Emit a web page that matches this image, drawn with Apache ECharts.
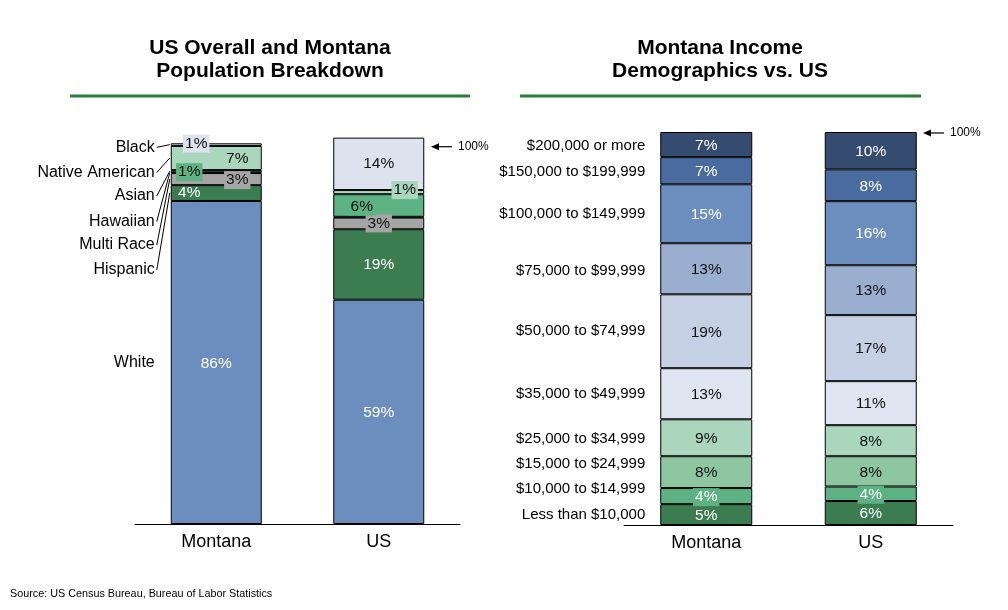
<!DOCTYPE html>
<html>
<head>
<meta charset="utf-8">
<script src="https://cdn.jsdelivr.net/npm/echarts@6/dist/echarts.min.js"></script>
<style>
  html, body { margin: 0; padding: 0; background: #fff; }
  #main { width: 1008px; height: 610px; }
</style>
</head>
<body>
<div id="main"></div>
<script>
const places = ['Montana', 'US']

// population breakdown, bottom segment first
const raceNames = ['White', 'Hispanic', 'Multi Race', 'Hawaiian', 'Asian', 'Native American', 'Black']
const raceMontana = [85.7, 4.2, 3.2, 0.2, 0.6, 6.4, 0.7]
const raceUS = [59.5, 18.7, 3.1, 0.2, 6.0, 1.1, 13.9]
const raceLabelsMontana = ['86%', '4%', '3%', '', '1%', '7%', '1%']
const raceLabelsUS = ['59%', '19%', '3%', '', '6%', '1%', '14%']

// household income brackets, bottom segment first
const incomeNames = [
    'Less than $10,000',
    '$10,000 to $14,999',
    '$15,000 to $24,999',
    '$25,000 to $34,999',
    '$35,000 to $49,999',
    '$50,000 to $74,999',
    '$75,000 to $99,999',
    '$100,000 to $149,999',
    '$150,000 to $199,999',
    '$200,000 or more',
]
const incomeMontana = [5.3, 4.1, 8.1, 9.4, 13.0, 18.8, 13.0, 15.0, 6.9, 6.4]
const incomeUS = [6.1, 3.7, 7.7, 7.9, 11.2, 16.8, 12.7, 16.3, 8.1, 9.5]
const incomeLabelsMontana = ['5%', '4%', '8%', '9%', '13%', '19%', '13%', '15%', '7%', '7%']
const incomeLabelsUS = ['6%', '4%', '8%', '8%', '11%', '17%', '13%', '16%', '8%', '10%']

// ---- styling ----
const FONT = '"Liberation Sans", Arial, sans-serif'
const raceColors = ['#6c8ebf', '#3b7d50', '#a5a5a5', '#000000', '#5cb283', '#a9d6bd', '#dde3ee']
const raceText = ['#fff', '#fff', '#111', '#111', '#111', '#111', '#111']
const raceLabelBg = [null, null, '#a5a5a5', null, '#5cb283', '#a9d6bd', '#dde3ee']
// label nudges in px: [montana, us]
const raceLabelShift = [
    [[0, 1], [0, 1]],
    [[-27, 0], [0, 0]],
    [[21, 1], [0, 0]],
    [[0, 0], [0, 0]],
    [[-27, 1], [-17, 1]],
    [[21, 1], [26, -2]],
    [[-20, -1], [0, 0]],
]
// where the race names sit on the left (px, y centre)
const raceNameY = [363, 270, 245, 221.5, 196, 172.5, 147.3]

const incomeColors = ['#3b7d50', '#5cb283', '#8ec6a1', '#a9d6bd', '#dfe5f0',
    '#c5d0e4', '#9aaed0', '#6c8ebf', '#4a6b9f', '#354b70']
const incomeText = ['#fff', '#fff', '#111', '#111', '#111', '#111', '#111', '#fff', '#fff', '#fff']
const incomeLabelBg = [null, '#5cb283', null, null, null, null, null, null, null, null]
// nudge for income names (px) so the small brackets don't crowd
const incomeNameShift = [0, -7, -8, 1, 0, 0, 2, 0, 1, 1]

const RACE_BAR = 91
const INCOME_BAR = 92

const chart = echarts.init(document.getElementById('main'))

const buildRace = () =>
    raceNames.map((name, i) => ({
        name,
        type: 'bar',
        stack: 'race',
        xAxisIndex: 0,
        yAxisIndex: 0,
        barWidth: RACE_BAR,
        itemStyle: { color: raceColors[i], borderColor: '#000', borderWidth: 1 },
        label: {
            show: true,
            position: 'inside',
            color: raceText[i],
            fontSize: 15.5,
            fontFamily: FONT,
            backgroundColor: raceLabelBg[i] || 'transparent',
            padding: [1, 2],
        },
        data: [
            {
                value: raceMontana[i],
                label: { show: !!raceLabelsMontana[i], formatter: raceLabelsMontana[i], offset: raceLabelShift[i][0] },
            },
            {
                value: raceUS[i],
                label: { show: !!raceLabelsUS[i], formatter: raceLabelsUS[i], offset: raceLabelShift[i][1] },
            },
        ],
    }))

const buildIncome = () =>
    incomeNames.map((name, i) => ({
        name,
        type: 'bar',
        stack: 'income',
        xAxisIndex: 1,
        yAxisIndex: 1,
        barWidth: INCOME_BAR,
        itemStyle: { color: incomeColors[i], borderColor: '#000', borderWidth: 1 },
        label: {
            show: true,
            position: 'inside',
            color: incomeText[i],
            fontSize: 15.5,
            fontFamily: FONT,
            backgroundColor: incomeLabelBg[i] || 'transparent',
            padding: [1, 2],
            offset: [0, 1],
        },
        data: [
            { value: incomeMontana[i], label: { formatter: incomeLabelsMontana[i] } },
            { value: incomeUS[i], label: { formatter: incomeLabelsUS[i] } },
        ],
    }))

const xAxisBase = {
    type: 'category',
    data: places,
    axisLine: { lineStyle: { color: '#000', width: 1 } },
    axisTick: { show: false },
    axisLabel: { color: '#000', fontSize: 18, fontFamily: FONT, margin: 9 },
}

const titleStyle = { color: '#000', fontSize: 21, fontWeight: 'bold', fontFamily: FONT, lineHeight: 23 }

chart.setOption({
    animation: false,
    backgroundColor: '#fff',
    title: [
        { text: 'US Overall and Montana\nPopulation Breakdown', left: 270, top: 37, textAlign: 'center', padding: 0, textStyle: titleStyle },
        { text: 'Montana Income\nDemographics vs. US', left: 720, top: 37, textAlign: 'center', padding: 0, textStyle: titleStyle },
    ],
    grid: [
        { left: 135, right: 548, top: 132, bottom: 86 },
        { left: 624, right: 55, top: 132, bottom: 85 },
    ],
    xAxis: [
        { ...xAxisBase, gridIndex: 0 },
        { ...xAxisBase, gridIndex: 1 },
    ],
    yAxis: [
        { type: 'value', gridIndex: 0, min: 0, max: 104, show: false, splitLine: { show: false } },
        { type: 'value', gridIndex: 1, min: 0, max: 100, show: false, splitLine: { show: false } },
    ],
    series: [...buildRace(), ...buildIncome()],
})

// names + leader lines, placed off the Montana bars through the axes
const mids = (vals) => {
    let acc = 0
    return vals.map((v) => {
        const m = acc + v / 2
        acc += v
        return m
    })
}
const toPx = (idx, place, v) => chart.convertToPixel({ xAxisIndex: idx, yAxisIndex: idx }, [place, v])

const graphics = []
const nameText = (x, y, text, size, align) => ({
    type: 'text',
    style: {
        x, y, text,
        fill: '#000',
        fontSize: size,
        fontFamily: FONT,
        textAlign: align || 'right',
        verticalAlign: 'middle',
        textVerticalAlign: 'middle',
    },
})

const raceMid = mids(raceMontana)
raceNames.forEach((name, i) => {
    const [cx, cy] = toPx(0, 'Montana', raceMid[i])
    const barLeft = cx - RACE_BAR / 2
    const tx = barLeft - 16
    graphics.push(nameText(tx, raceNameY[i], name, 16))
    if (i > 0) {
        graphics.push({
            type: 'line',
            shape: { x1: tx + 2, y1: raceNameY[i], x2: barLeft - 1, y2: cy },
            style: { stroke: '#000', lineWidth: 1 },
        })
    }
})

const incomeMid = mids(incomeMontana)
incomeNames.forEach((name, i) => {
    const [cx, cy] = toPx(1, 'Montana', incomeMid[i])
    graphics.push(nameText(cx - INCOME_BAR / 2 - 15, cy + incomeNameShift[i], name, 15))
})

// green rules under the titles
;[[70, 470], [520, 921]].forEach(([x1, x2]) => {
    graphics.push({ type: 'line', shape: { x1, y1: 96, x2, y2: 96 }, style: { stroke: '#2f7d34', lineWidth: 3 } })
})

// 100% arrows
const arrow = (tipX, y) => {
    graphics.push({ type: 'line', shape: { x1: tipX + 5, y1: y, x2: tipX + 21, y2: y }, style: { stroke: '#000', lineWidth: 1.2 } })
    graphics.push({ type: 'polygon', shape: { points: [[tipX, y], [tipX + 8, y - 3.5], [tipX + 8, y + 3.5]] }, style: { fill: '#000' } })
    graphics.push(nameText(tipX + 27, y, '100%', 12, 'left'))
}
arrow(431, 146.7)
arrow(923, 133)

graphics.push(nameText(10, 594, 'Source: US Census Bureau, Bureau of Labor Statistics', 10.8, 'left'))

chart.setOption({ graphic: graphics })
</script>
</body>
</html>
